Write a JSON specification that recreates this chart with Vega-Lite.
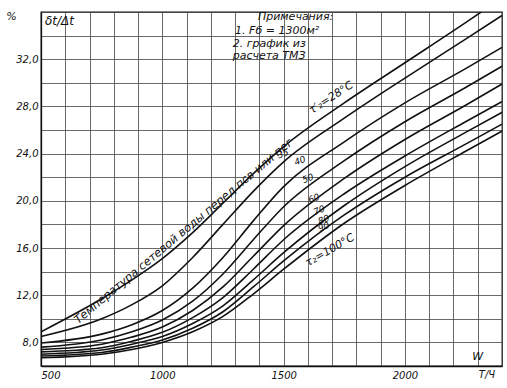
{
  "$schema": "https://vega.github.io/schema/vega-lite/v6.json",
  "width": 461,
  "height": 354,
  "autosize": "none",
  "padding": {"left": 41, "top": 12, "right": 5, "bottom": 22},
  "background": "white",
  "config": {
    "view": {"stroke": "#111", "strokeWidth": 1.3},
    "font": "DejaVu Sans",
    "text": {"font": "DejaVu Sans", "fontStyle": "italic", "color": "#111"}
  },
  "encoding": {
    "x": {
      "field": "w", "type": "quantitative",
      "scale": {"domain": [500, 2400], "nice": false, "zero": false},
      "axis": {
        "title": null,
        "values": [500, 600, 700, 800, 900, 1000, 1100, 1200, 1300, 1400, 1500, 1600, 1700, 1800, 1900, 2000, 2100, 2200, 2300, 2400],
        "labelExpr": "datum.value % 500 == 0 && datum.value < 2400 ? datum.value : ''",
        "grid": true, "gridColor": "#444", "gridWidth": 0.8, "gridOpacity": 1,
        "ticks": false, "domainColor": "#111", "domainWidth": 1.3,
        "labelFont": "DejaVu Sans", "labelFontStyle": "italic", "labelFontSize": 10, "labelColor": "#111", "labelPadding": 4
      }
    },
    "y": {
      "field": "p", "type": "quantitative",
      "scale": {"domain": [6, 36], "nice": false, "zero": false},
      "axis": {
        "title": "%", "titleAngle": 0, "titleX": -30, "titleY": 4, "titleFont": "DejaVu Sans", "titleFontStyle": "italic", "titleFontWeight": "normal", "titleFontSize": 11, "titleColor": "#111", "titleAlign": "center", "titleBaseline": "middle",
        "values": [6, 8, 10, 12, 14, 16, 18, 20, 22, 24, 26, 28, 30, 32, 34, 36],
        "labelExpr": "datum.value % 4 == 0 && datum.value >= 8 && datum.value <= 32 ? replace(format(datum.value, '.1f'), '.', ',') : ''",
        "grid": true, "gridColor": "#444", "gridWidth": 0.8, "gridOpacity": 1,
        "ticks": false, "domainColor": "#111", "domainWidth": 1.3,
        "labelFont": "DejaVu Sans", "labelFontStyle": "italic", "labelFontSize": 10, "labelColor": "#111", "labelPadding": 3
      }
    }
  },
  "layer": [
    {
      "data": {"values": [
        {"t": 28, "w": 500, "p": 8.9}, {"t": 28, "w": 750, "p": 11.7}, {"t": 28, "w": 875, "p": 13.3}, {"t": 28, "w": 1000, "p": 15.1}, {"t": 28, "w": 1125, "p": 17.3}, {"t": 28, "w": 1250, "p": 19.8}, {"t": 28, "w": 1375, "p": 22.3}, {"t": 28, "w": 1500, "p": 24.6}, {"t": 28, "w": 1750, "p": 28.3}, {"t": 28, "w": 2000, "p": 31.7}, {"t": 28, "w": 2250, "p": 35.1}, {"t": 28, "w": 2400, "p": 37.2},
        {"t": 35, "w": 500, "p": 8.5}, {"t": 35, "w": 750, "p": 10.0}, {"t": 35, "w": 875, "p": 11.2}, {"t": 35, "w": 1000, "p": 12.8}, {"t": 35, "w": 1125, "p": 15.2}, {"t": 35, "w": 1250, "p": 18.0}, {"t": 35, "w": 1375, "p": 20.8}, {"t": 35, "w": 1500, "p": 23.3}, {"t": 35, "w": 1750, "p": 27.0}, {"t": 35, "w": 2000, "p": 30.4}, {"t": 35, "w": 2250, "p": 33.7}, {"t": 35, "w": 2400, "p": 35.7},
        {"t": 40, "w": 500, "p": 7.95}, {"t": 40, "w": 750, "p": 8.7}, {"t": 40, "w": 875, "p": 9.5}, {"t": 40, "w": 1000, "p": 10.7}, {"t": 40, "w": 1125, "p": 12.6}, {"t": 40, "w": 1250, "p": 15.2}, {"t": 40, "w": 1375, "p": 18.3}, {"t": 40, "w": 1500, "p": 21.2}, {"t": 40, "w": 1750, "p": 25.0}, {"t": 40, "w": 2000, "p": 28.3}, {"t": 40, "w": 2250, "p": 31.2}, {"t": 40, "w": 2400, "p": 33.0},
        {"t": 50, "w": 500, "p": 7.6}, {"t": 50, "w": 750, "p": 8.2}, {"t": 50, "w": 875, "p": 8.9}, {"t": 50, "w": 1000, "p": 9.9}, {"t": 50, "w": 1125, "p": 11.5}, {"t": 50, "w": 1250, "p": 13.8}, {"t": 50, "w": 1375, "p": 16.7}, {"t": 50, "w": 1500, "p": 19.5}, {"t": 50, "w": 1750, "p": 23.4}, {"t": 50, "w": 2000, "p": 26.7}, {"t": 50, "w": 2250, "p": 29.6}, {"t": 50, "w": 2400, "p": 31.4},
        {"t": 60, "w": 500, "p": 7.4}, {"t": 60, "w": 750, "p": 7.85}, {"t": 60, "w": 875, "p": 8.45}, {"t": 60, "w": 1000, "p": 9.3}, {"t": 60, "w": 1125, "p": 10.7}, {"t": 60, "w": 1250, "p": 12.7}, {"t": 60, "w": 1375, "p": 15.3}, {"t": 60, "w": 1500, "p": 17.9}, {"t": 60, "w": 1750, "p": 21.9}, {"t": 60, "w": 2000, "p": 25.2}, {"t": 60, "w": 2250, "p": 28.1}, {"t": 60, "w": 2400, "p": 29.9},
        {"t": 70, "w": 500, "p": 7.2}, {"t": 70, "w": 750, "p": 7.55}, {"t": 70, "w": 875, "p": 8.1}, {"t": 70, "w": 1000, "p": 8.85}, {"t": 70, "w": 1125, "p": 10.1}, {"t": 70, "w": 1250, "p": 11.8}, {"t": 70, "w": 1375, "p": 14.2}, {"t": 70, "w": 1500, "p": 16.7}, {"t": 70, "w": 1750, "p": 20.6}, {"t": 70, "w": 2000, "p": 23.8}, {"t": 70, "w": 2250, "p": 26.7}, {"t": 70, "w": 2400, "p": 28.4},
        {"t": 80, "w": 500, "p": 7.0}, {"t": 80, "w": 750, "p": 7.35}, {"t": 80, "w": 875, "p": 7.85}, {"t": 80, "w": 1000, "p": 8.5}, {"t": 80, "w": 1125, "p": 9.6}, {"t": 80, "w": 1250, "p": 11.1}, {"t": 80, "w": 1375, "p": 13.3}, {"t": 80, "w": 1500, "p": 15.6}, {"t": 80, "w": 1750, "p": 19.6}, {"t": 80, "w": 2000, "p": 22.9}, {"t": 80, "w": 2250, "p": 25.8}, {"t": 80, "w": 2400, "p": 27.5},
        {"t": 90, "w": 500, "p": 6.85}, {"t": 90, "w": 750, "p": 7.15}, {"t": 90, "w": 875, "p": 7.6}, {"t": 90, "w": 1000, "p": 8.2}, {"t": 90, "w": 1125, "p": 9.2}, {"t": 90, "w": 1250, "p": 10.6}, {"t": 90, "w": 1375, "p": 12.7}, {"t": 90, "w": 1500, "p": 14.9}, {"t": 90, "w": 1750, "p": 18.8}, {"t": 90, "w": 2000, "p": 22.0}, {"t": 90, "w": 2250, "p": 24.8}, {"t": 90, "w": 2400, "p": 26.5},
        {"t": 100, "w": 500, "p": 6.7}, {"t": 100, "w": 750, "p": 7.0}, {"t": 100, "w": 875, "p": 7.4}, {"t": 100, "w": 1000, "p": 8.0}, {"t": 100, "w": 1125, "p": 8.9}, {"t": 100, "w": 1250, "p": 10.2}, {"t": 100, "w": 1375, "p": 12.1}, {"t": 100, "w": 1500, "p": 14.2}, {"t": 100, "w": 1750, "p": 18.1}, {"t": 100, "w": 2000, "p": 21.3}, {"t": 100, "w": 2250, "p": 24.2}, {"t": 100, "w": 2400, "p": 25.9}
      ]},
      "mark": {"type": "line", "interpolate": "monotone", "color": "#111", "strokeWidth": 1.6, "clip": true},
      "encoding": {"detail": {"field": "t", "type": "nominal"}}
    },
    {
      "data": {"values": [{"w": 1105, "p": 17.0, "label": "Температура сетевой воды перед псв или пег"}]},
      "mark": {"type": "text", "angle": -40, "align": "center", "baseline": "bottom", "dy": -1, "fontSize": 11.5},
      "encoding": {"text": {"field": "label"}}
    },
    {
      "data": {"values": [{"w": 1710, "p": 28.3, "label": "τ′₂=28°C"}]},
      "mark": {"type": "text", "angle": -33, "align": "center", "baseline": "bottom", "dy": -1, "fontSize": 11},
      "encoding": {"text": {"field": "label"}}
    },
    {
      "data": {"values": [
        {"w": 1497, "p": 24.0, "label": "35"},
        {"w": 1567, "p": 23.4, "label": "40"},
        {"w": 1600, "p": 21.9, "label": "50"},
        {"w": 1625, "p": 20.2, "label": "60"},
        {"w": 1646, "p": 19.2, "label": "70"},
        {"w": 1665, "p": 18.4, "label": "80"},
        {"w": 1665, "p": 17.8, "label": "90"}
      ]},
      "mark": {"type": "text", "angle": -22, "align": "center", "baseline": "middle", "fontSize": 9},
      "encoding": {"text": {"field": "label"}}
    },
    {
      "data": {"values": [{"w": 1691, "p": 15.8, "label": "τ₂=100°C"}]},
      "mark": {"type": "text", "angle": -30, "align": "center", "baseline": "middle", "fontSize": 11},
      "encoding": {"text": {"field": "label"}}
    },
    {
      "data": {"values": [
        {"w": 1394, "p": 35.6, "label": "Примечания:"},
        {"w": 1300, "p": 34.4, "label": "1. Fб = 1300м²"},
        {"w": 1290, "p": 33.3, "label": "2. график из"},
        {"w": 1290, "p": 32.3, "label": "расчета ТМЗ"}
      ]},
      "mark": {"type": "text", "align": "left", "baseline": "middle", "fontSize": 11},
      "encoding": {"text": {"field": "label"}}
    },
    {
      "data": {"values": [{"w": 516, "p": 35.2, "label": "δt/Δt"}]},
      "mark": {"type": "text", "align": "left", "baseline": "middle", "fontSize": 12},
      "encoding": {"text": {"field": "label"}}
    },
    {
      "data": {"values": [{"w": 2300, "p": 6.8, "label": "W"}]},
      "mark": {"type": "text", "align": "center", "baseline": "middle", "fontSize": 11},
      "encoding": {"text": {"field": "label"}}
    },
    {
      "data": {"values": [{"w": 2338, "p": 5.25, "label": "Т/Ч"}]},
      "mark": {"type": "text", "align": "center", "baseline": "middle", "fontSize": 10},
      "encoding": {"text": {"field": "label"}}
    }
  ]
}
